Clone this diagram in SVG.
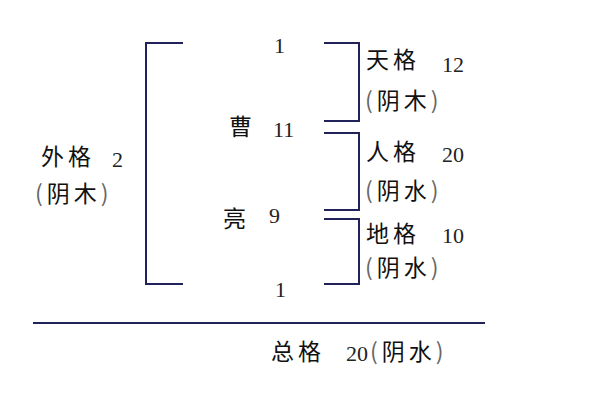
<svg xmlns="http://www.w3.org/2000/svg" width="600" height="400" viewBox="0 0 600 400">
<style>
.ln{fill:none;stroke:#22225a;stroke-width:2}
.cj{font-family:"Noto Sans CJK SC","Liberation Sans",sans-serif;font-size:23px;letter-spacing:4px;fill:#111}
.nm{font-family:"Liberation Serif",serif;font-size:22px;fill:#222}
.pr{fill:#666}
</style>
<rect width="600" height="400" fill="#fff"/>
<g id="connectors">
<path class="ln" d="M183,43 H146 V284 H183"/>
<path class="ln" d="M324,43 H359 V121 H324"/>
<path class="ln" d="M324,133 H359 V210 H324"/>
<path class="ln" d="M324,219 H359 V284 H324"/>
<path class="ln" d="M33,323 H485"/>
</g>
<g id="top1"><text class="nm" x="274" y="53">1</text></g>
<g id="cao"><text class="cj" x="229" y="135">曹</text><text class="nm" x="273" y="137">11</text></g>
<g id="liang"><text class="cj" x="223" y="227">亮</text><text class="nm" x="269" y="223">9</text></g>
<g id="bottom1"><text class="nm" x="275" y="297">1</text></g>
<g id="tiange"><text class="cj" x="366" y="68">天格</text><text class="nm" x="442" y="72">12</text>
<text class="cj" x="365" y="109"><tspan class="pr">(</tspan>阴木<tspan class="pr">)</tspan></text></g>
<g id="renge"><text class="cj" x="366" y="160">人格</text><text class="nm" x="442" y="162">20</text>
<text class="cj" x="365" y="199"><tspan class="pr">(</tspan>阴水<tspan class="pr">)</tspan></text></g>
<g id="dige"><text class="cj" x="366" y="242">地格</text><text class="nm" x="442" y="243">10</text>
<text class="cj" x="365" y="276"><tspan class="pr">(</tspan>阴水<tspan class="pr">)</tspan></text></g>
<g id="waige"><text class="cj" x="41" y="165">外格</text><text class="nm" x="112" y="167">2</text>
<text class="cj" x="35" y="202"><tspan class="pr">(</tspan>阴木<tspan class="pr">)</tspan></text></g>
<g id="zongge"><text class="cj" x="271" y="360">总格</text><text class="nm" x="346" y="361">20</text>
<text class="cj" x="370" y="360"><tspan class="pr">(</tspan>阴水<tspan class="pr">)</tspan></text></g>
</svg>
